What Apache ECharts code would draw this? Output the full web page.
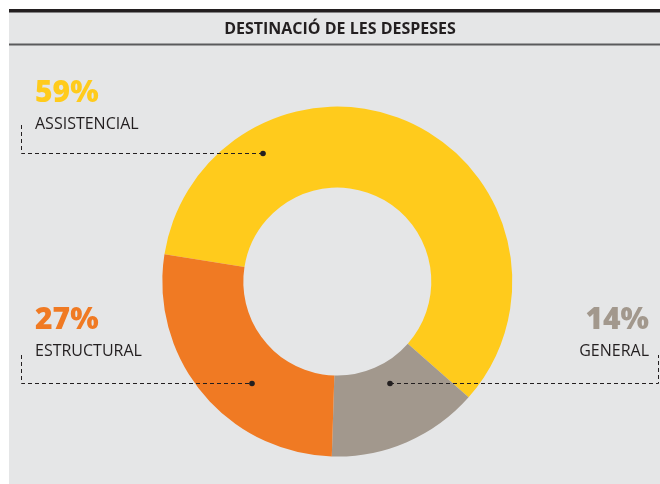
<!DOCTYPE html>
<html>
<head>
<meta charset="utf-8">
<script src="https://cdn.jsdelivr.net/npm/echarts@6/dist/echarts.min.js"></script>
<style>
html,body{margin:0;padding:0;background:#ffffff;}
#c{width:660px;height:484px;}
</style>
</head>
<body>
<div id="c"></div>
<script>
var title = 'DESTINACIÓ DE LES DESPESES';
var categories = ['ASSISTENCIAL', 'GENERAL', 'ESTRUCTURAL'];
var values = [59, 14, 27];
var colors = ['#FFCB1C', '#A2988D', '#F07A23'];

var chart = echarts.init(document.getElementById('c'));
var font = '"Open Sans", "Noto Sans", sans-serif';

function pctText(i){ return values[i] + '%'; }

var dash = [4, 3];
var graphics = [
  {type:'rect', shape:{x:9,y:9,width:651,height:475}, style:{fill:'#E5E6E7'}, z:-10},
  {type:'rect', shape:{x:9,y:9,width:651,height:3.5}, style:{fill:'#231F20'}, z:100},
  {type:'rect', shape:{x:9,y:43.5,width:651,height:2}, style:{fill:'#5A5A5C'}, z:100},
  {type:'text', x:340, y:29, z:100, style:{text:title, font:'bold 16px ' + font, fill:'#231F20', textAlign:'center', textVerticalAlign:'middle'}},
  // ASSISTENCIAL
  {type:'text', x:35, y:93, z:100, style:{text:pctText(0), font:'800 30px ' + font, fill:colors[0], textAlign:'left', textVerticalAlign:'middle'}},
  {type:'text', x:35, y:124, z:100, style:{text:categories[0], font:'16px ' + font, fill:'#231F20', textAlign:'left', textVerticalAlign:'middle'}},
  {type:'polyline', z:100, shape:{points:[[21.5,125],[21.5,153.5],[263,153.5]]}, style:{stroke:'#231F20', lineWidth:1, lineDash:dash, fill:null}},
  {type:'circle', z:100, shape:{cx:263,cy:153.5,r:2.8}, style:{fill:'#231F20'}},
  // ESTRUCTURAL
  {type:'text', x:35, y:320, z:100, style:{text:pctText(2), font:'800 30px ' + font, fill:colors[2], textAlign:'left', textVerticalAlign:'middle'}},
  {type:'text', x:35, y:351, z:100, style:{text:categories[2], font:'16px ' + font, fill:'#231F20', textAlign:'left', textVerticalAlign:'middle'}},
  {type:'polyline', z:100, shape:{points:[[21.5,355],[21.5,383.5],[252,383.5]]}, style:{stroke:'#231F20', lineWidth:1, lineDash:dash, fill:null}},
  {type:'circle', z:100, shape:{cx:252,cy:383.5,r:2.8}, style:{fill:'#231F20'}},
  // GENERAL
  {type:'text', x:649, y:320, z:100, style:{text:pctText(1), font:'800 30px ' + font, fill:colors[1], textAlign:'right', textVerticalAlign:'middle'}},
  {type:'text', x:649, y:351, z:100, style:{text:categories[1], font:'16px ' + font, fill:'#231F20', textAlign:'right', textVerticalAlign:'middle'}},
  {type:'polyline', z:100, shape:{points:[[390,383.5],[658.5,383.5],[658.5,355]]}, style:{stroke:'#231F20', lineWidth:1, lineDash:dash, fill:null}},
  {type:'circle', z:100, shape:{cx:390,cy:383.5,r:2.8}, style:{fill:'#231F20'}}
];

chart.setOption({
  animation:false,
  backgroundColor:'#ffffff',
  series:[{
    type:'pie',
    center:[337.3, 281.6],
    radius:[94, 175],
    startAngle:171,
    clockwise:true,
    label:{show:false},
    labelLine:{show:false},
    emphasis:{disabled:true},
    itemStyle:{borderWidth:0},
    data: categories.map(function(c,i){ return {name:c, value:values[i], itemStyle:{color:colors[i]}}; }),
    z:2
  }],
  graphic: graphics
});
</script>
</body>
</html>
